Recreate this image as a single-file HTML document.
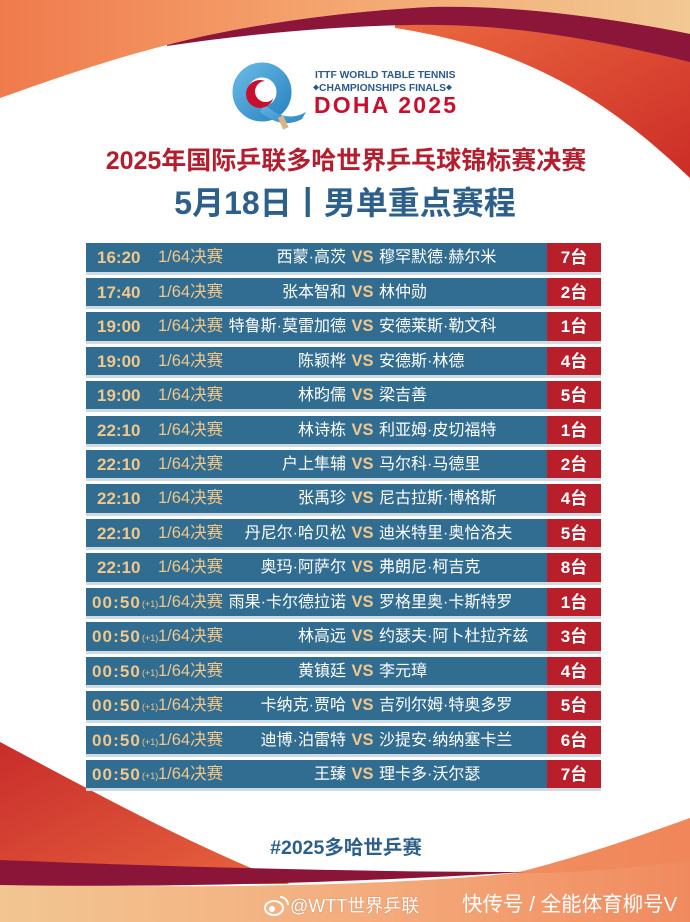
<!DOCTYPE html>
<html><head><meta charset="utf-8">
<style>
*{margin:0;padding:0;box-sizing:border-box}
html,body{width:690px;height:922px;overflow:hidden;background:#fff}
body{position:relative;font-family:"Liberation Sans","Noto Sans CJK SC",sans-serif}
svg.bg{position:absolute;left:0;top:0}
.abs{position:absolute;white-space:nowrap}
.row{position:absolute;left:86px;width:515px;height:28.4px;background:#316d91}
.row::after{content:"";position:absolute;left:0;right:0;top:28.4px;height:3px;background:#cfdbe3}
.row div{position:absolute;top:0;height:28.4px;line-height:29px;white-space:nowrap}
.t{left:11px;font-weight:bold;font-size:17px;color:#f1c78b}
.t2{left:6px;font-weight:bold;font-size:17px;color:#f1c78b;letter-spacing:1.1px}
.p1{left:56px;font-size:9px;color:#f1c78b;padding-top:2px}
.r{left:72px;font-size:16.5px;color:#f1c78b}
.l{right:255px;font-size:16px;color:#fff;text-align:right}
.vs{left:265.5px;font-size:16.5px;font-weight:bold;color:#f1c78b}
.rn{left:293px;font-size:16px;color:#fff}
.tb{left:461px;width:54px;background:#b81f2b;text-align:center;color:#fff;font-weight:bold;font-size:17px}
</style></head><body>
<svg class="bg" width="690" height="922" viewBox="0 0 690 922">
<defs>
<linearGradient id="gTop" x1="0" y1="0" x2="1" y2="0">
<stop offset="0" stop-color="#f07a4c"/><stop offset="0.45" stop-color="#f4a36d"/><stop offset="1" stop-color="#f2c893"/>
</linearGradient>
<linearGradient id="gTR" x1="0" y1="0" x2="1" y2="1">
<stop offset="0" stop-color="#ec6a40"/><stop offset="1" stop-color="#cc2c27"/>
</linearGradient>
<linearGradient id="gBL" x1="0" y1="0" x2="1" y2="1">
<stop offset="0" stop-color="#c82c2b"/><stop offset="1" stop-color="#e9663f"/>
</linearGradient>
<linearGradient id="gBot" x1="0" y1="0" x2="1" y2="0">
<stop offset="0" stop-color="#f2c691"/><stop offset="0.55" stop-color="#f4ab7c"/><stop offset="1" stop-color="#f08a5e"/>
</linearGradient>
<linearGradient id="gQ" x1="0" y1="0" x2="1" y2="1">
<stop offset="0" stop-color="#62b6e3"/><stop offset="1" stop-color="#2f87c2"/>
</linearGradient>
</defs>
<path d="M395 18 L690 18 L690 178 C620 112 540 50 395 28 Z" fill="url(#gTR)"/>
<path d="M0 0 L690 0 L690 34 C600 16 510 5 430 7 C330 12 230 28 167 45 C100 62 40 84 0 98 Z" fill="url(#gTop)"/>
<path d="M167 45 C230 28 330 12 430 7 C510 5 600 16 690 34 L690 62 C600 40 520 26 440 25 C360 24 260 32 167 46 Z" fill="#8c1639"/>
<path d="M0 742 C90 790 190 845 290 884 L0 884 Z" fill="url(#gBL)"/>
<path d="M0 883 C200 890 400 885 515 873 C580 857 640 836 690 818 L690 922 L0 922 Z" fill="url(#gBot)"/>
<path d="M515 873 C580 857 640 836 690 818 L690 860 C620 870 560 874 515 873 Z" fill="#f08457" opacity="0.6"/>
<path d="M0 860 C150 866 350 872 525 872 C360 882 180 888 0 885 Z" fill="#8a1538"/>
<circle cx="262" cy="92" r="22" fill="none" stroke="url(#gQ)" stroke-width="15"/>
<path d="M264 104 Q285 124 306 112 L302 119 Q282 130 260 112 Z" fill="url(#gQ)"/>
<rect x="280" y="116" width="6" height="13" fill="#d8b48a" transform="rotate(-25 283 122)"/>
<circle cx="260" cy="94" r="14" fill="#c8102e"/>
<circle cx="265.5" cy="91.5" r="10.5" fill="#fff"/>
<ellipse cx="274" cy="908" rx="9" ry="7" fill="none" stroke="#fff" stroke-width="2"/>
<circle cx="272" cy="909" r="3" fill="#fff"/>
<path d="M280 897 A8 8 0 0 1 288 905" fill="none" stroke="#fff" stroke-width="2"/>
</svg>

<div class="abs" style="left:315px;top:70px;font-size:10.3px;font-weight:bold;color:#2b5a8a;line-height:12px">ITTF WORLD TABLE TENNIS</div>
<div class="abs" style="left:313px;top:83px;font-size:10.3px;font-weight:bold;color:#2b5a8a;line-height:12px"><span style="font-size:6px;vertical-align:1px">◆</span>CHAMPIONSHIPS FINALS<span style="font-size:6px;vertical-align:1px">◆</span></div>
<div class="abs" style="left:314px;top:92px;font-size:23px;font-weight:bold;color:#c8102e;line-height:26px;letter-spacing:2.2px">DOHA 2025</div>

<div class="abs" style="left:0;width:692px;top:146px;text-align:center;font-size:25px;font-weight:bold;color:#b41d2e;line-height:30px">2025年国际乒联多哈世界乒乓球锦标赛决赛</div>
<div class="abs" style="left:0;width:690px;top:184px;text-align:center;font-size:32px;font-weight:bold;color:#2d5f8b;line-height:38px">5月18日丨男单重点赛程</div>

<div class="row" style="top:243.3px"><div class="t">16:20</div><div class="r">1/64决赛</div><div class="l">西蒙·高茨</div><div class="vs">VS</div><div class="rn">穆罕默德·赫尔米</div><div class="tb">7台</div></div>
<div class="row" style="top:277.75px"><div class="t">17:40</div><div class="r">1/64决赛</div><div class="l">张本智和</div><div class="vs">VS</div><div class="rn">林仲勋</div><div class="tb">2台</div></div>
<div class="row" style="top:312.2px"><div class="t">19:00</div><div class="r">1/64决赛</div><div class="l">特鲁斯·莫雷加德</div><div class="vs">VS</div><div class="rn">安德莱斯·勒文科</div><div class="tb">1台</div></div>
<div class="row" style="top:346.65px"><div class="t">19:00</div><div class="r">1/64决赛</div><div class="l">陈颖桦</div><div class="vs">VS</div><div class="rn">安德斯·林德</div><div class="tb">4台</div></div>
<div class="row" style="top:381.1px"><div class="t">19:00</div><div class="r">1/64决赛</div><div class="l">林昀儒</div><div class="vs">VS</div><div class="rn">梁吉善</div><div class="tb">5台</div></div>
<div class="row" style="top:415.55px"><div class="t">22:10</div><div class="r">1/64决赛</div><div class="l">林诗栋</div><div class="vs">VS</div><div class="rn">利亚姆·皮切福特</div><div class="tb">1台</div></div>
<div class="row" style="top:450px"><div class="t">22:10</div><div class="r">1/64决赛</div><div class="l">户上隼辅</div><div class="vs">VS</div><div class="rn">马尔科·马德里</div><div class="tb">2台</div></div>
<div class="row" style="top:484.45px"><div class="t">22:10</div><div class="r">1/64决赛</div><div class="l">张禹珍</div><div class="vs">VS</div><div class="rn">尼古拉斯·博格斯</div><div class="tb">4台</div></div>
<div class="row" style="top:518.9px"><div class="t">22:10</div><div class="r">1/64决赛</div><div class="l">丹尼尔·哈贝松</div><div class="vs">VS</div><div class="rn">迪米特里·奥恰洛夫</div><div class="tb">5台</div></div>
<div class="row" style="top:553.35px"><div class="t">22:10</div><div class="r">1/64决赛</div><div class="l">奥玛·阿萨尔</div><div class="vs">VS</div><div class="rn">弗朗尼·柯吉克</div><div class="tb">8台</div></div>
<div class="row" style="top:587.8px"><div class="t2">00:50</div><div class="p1">(+1)</div><div class="r">1/64决赛</div><div class="l">雨果·卡尔德拉诺</div><div class="vs">VS</div><div class="rn">罗格里奥·卡斯特罗</div><div class="tb">1台</div></div>
<div class="row" style="top:622.25px"><div class="t2">00:50</div><div class="p1">(+1)</div><div class="r">1/64决赛</div><div class="l">林高远</div><div class="vs">VS</div><div class="rn">约瑟夫·阿卜杜拉齐兹</div><div class="tb">3台</div></div>
<div class="row" style="top:656.7px"><div class="t2">00:50</div><div class="p1">(+1)</div><div class="r">1/64决赛</div><div class="l">黄镇廷</div><div class="vs">VS</div><div class="rn">李元璋</div><div class="tb">4台</div></div>
<div class="row" style="top:691.15px"><div class="t2">00:50</div><div class="p1">(+1)</div><div class="r">1/64决赛</div><div class="l">卡纳克·贾哈</div><div class="vs">VS</div><div class="rn">吉列尔姆·特奥多罗</div><div class="tb">5台</div></div>
<div class="row" style="top:725.6px"><div class="t2">00:50</div><div class="p1">(+1)</div><div class="r">1/64决赛</div><div class="l">迪博·泊雷特</div><div class="vs">VS</div><div class="rn">沙提安·纳纳塞卡兰</div><div class="tb">6台</div></div>
<div class="row" style="top:760.05px"><div class="t2">00:50</div><div class="p1">(+1)</div><div class="r">1/64决赛</div><div class="l">王臻</div><div class="vs">VS</div><div class="rn">理卡多·沃尔瑟</div><div class="tb">7台</div></div>

<div class="abs" style="left:0;width:692px;top:836px;text-align:center;font-size:19.5px;font-weight:bold;color:#2d5f8b;line-height:24px">#2025多哈世乒赛</div>
<div class="abs" style="left:290px;top:895px;font-size:18px;color:#fff;line-height:22px;text-shadow:0 0 1px rgba(90,60,50,0.5)">@WTT世界乒联</div>
<div class="abs" style="left:462px;top:893px;font-size:20.5px;color:#fff;line-height:24px">快传号 / 全能体育柳号V</div>
</body></html>
